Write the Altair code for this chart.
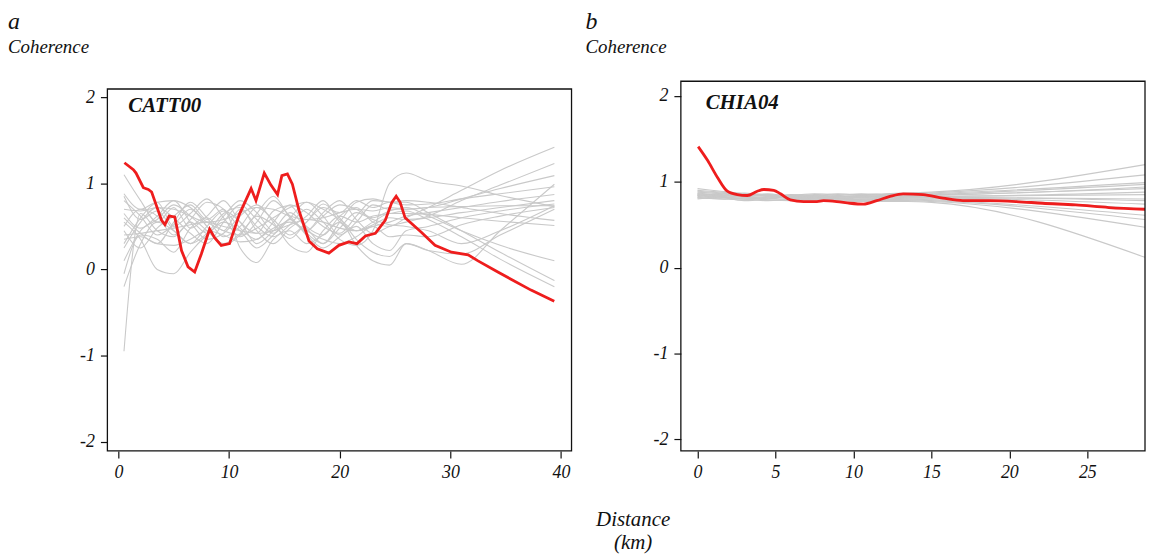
import altair as alt
import pandas as pd

FONT = "Liberation Serif"

# ---------------- text ----------------
PANEL_LETTERS = ["a", "b"]
STATIONS = ["CATT00", "CHIA04"]
Y_TITLE = "Coherence"
X_TITLE = ["Distance", "(km)"]

# ---------------- panel a (CATT00) ----------------
A_X_TICKS = [0, 10, 20, 30, 40]
A_RED_X = [0.54, 1.35, 1.59, 2.25, 2.70, 3.0, 3.90, 4.20, 4.58, 5.09, 5.70, 6.29, 6.89, 7.49, 8.24, 8.69,
           9.29, 10.04, 10.93, 11.99, 12.43, 13.18, 13.78, 14.38, 14.77, 15.27, 15.72, 16.33, 17.22,
           17.97, 19.02, 19.92, 20.82, 21.56, 22.32, 23.22, 24.11, 24.71, 25.10, 25.46, 25.91, 27.40,
           28.61, 30.10, 31.60, 32.50, 34.29, 37.29, 39.39]
A_RED_Y = [1.24, 1.16, 1.12, 0.95, 0.93, 0.90, 0.57, 0.52, 0.62, 0.61, 0.22, 0.03, -0.03, 0.18, 0.47, 0.37,
           0.28, 0.30, 0.64, 0.94, 0.80, 1.12, 0.98, 0.87, 1.09, 1.11, 0.99, 0.68, 0.33,
           0.24, 0.19, 0.28, 0.32, 0.30, 0.39, 0.42, 0.57, 0.78, 0.85, 0.78, 0.60, 0.43,
           0.28, 0.20, 0.17, 0.10, -0.03, -0.24, -0.37]

A_GRAY_X = [0.5, 2, 3.5, 5, 6.5, 8, 9.5, 11, 12.5, 14, 15.5, 17, 18.5, 20, 21.5, 23, 24.5, 26, 28, 31, 34.5, 39.4]
A_G01 = [1.10, 0.80, 0.55, 0.72, 0.48, 0.62, 0.80, 0.55, 0.42, 0.68, 0.74, 0.50, 0.40, 0.62, 0.72, 0.55, 0.50, 0.60, 0.72, 0.92, 1.15, 1.42]
A_G02 = [0.88, 0.70, 0.78, 0.50, 0.65, 0.82, 0.60, 0.38, 0.55, 0.80, 0.62, 0.45, 0.66, 0.80, 0.58, 0.42, 0.50, 0.55, 0.62, 0.80, 0.98, 1.23]
A_G03 = [0.70, 0.68, 0.72, 0.70, 0.62, 0.55, 0.58, 0.66, 0.72, 0.70, 0.62, 0.58, 0.60, 0.66, 0.70, 0.68, 0.72, 0.70, 0.72, 0.82, 0.94, 1.09]
A_G04 = [0.60, 0.42, 0.30, 0.55, 0.78, 0.60, 0.38, 0.50, 0.72, 0.58, 0.40, 0.55, 0.76, 0.60, 0.35, 0.20, 0.15, 0.30, 0.22, 0.06, 0.45, 0.99]
A_G05 = [0.50, 0.70, 0.62, 0.40, 0.58, 0.78, 0.70, 0.48, 0.35, 0.55, 0.75, 0.66, 0.50, 0.42, 0.62, 0.80, 0.78, 0.75, 0.76, 0.82, 0.88, 0.96]
A_G06 = [0.40, 0.42, 0.45, 0.48, 0.52, 0.55, 0.50, 0.45, 0.42, 0.45, 0.52, 0.58, 0.55, 0.48, 0.45, 0.50, 0.55, 0.62, 0.66, 0.72, 0.79, 0.87]
A_G07 = [0.25, 0.55, 0.72, 0.60, 0.42, 0.30, 0.55, 0.75, 0.58, 0.42, 0.60, 0.78, 0.62, 0.40, 0.55, 0.75, 0.70, 0.70, 0.72, 0.73, 0.74, 0.74]
A_G08 = [0.10, 0.45, 0.58, 0.75, 0.62, 0.45, 0.30, 0.42, 0.65, 0.85, 0.60, 0.42, 0.30, 0.48, 0.66, 0.58, 0.52, 0.50, 0.45, 0.30, 0.45, 0.74]
A_G09 = [-0.05, 0.40, 0.35, 0.20, 0.48, 0.60, 0.45, 0.70, 0.50, 0.38, 0.52, 0.70, 0.55, 0.35, 0.28, 0.45, 1.00, 1.12, 1.03, 0.97, 0.86, 0.73]
A_G10 = [-0.20, 0.30, 0.55, 0.45, 0.30, 0.50, 0.68, 0.55, 0.30, 0.45, 0.66, 0.48, 0.30, 0.55, 0.78, 0.82, 0.78, 0.80, 0.78, 0.72, 0.65, 0.57]
A_G11 = [0.30, 0.60, 0.78, 0.80, 0.72, 0.55, 0.45, 0.40, 0.48, 0.60, 0.72, 0.78, 0.70, 0.58, 0.45, 0.55, 0.65, 0.65, 0.64, 0.60, 0.56, 0.51]
A_G12 = [0.55, 0.35, 0.00, -0.05, 0.20, 0.40, 0.55, 0.45, 0.25, 0.40, 0.58, 0.45, 0.62, 0.75, 0.70, 0.60, 0.68, 0.72, 0.62, 0.45, 0.28, 0.10]
A_G13 = [0.80, 0.62, 0.40, 0.52, 0.70, 0.50, 0.28, 0.40, 0.62, 0.52, 0.36, 0.55, 0.72, 0.66, 0.80, 0.72, 0.78, 0.78, 0.66, 0.45, 0.20, -0.13]
A_G14 = [0.65, 0.48, 0.62, 0.80, 0.55, 0.35, 0.42, 0.62, 0.75, 0.55, 0.28, 0.20, 0.45, 0.62, 0.55, 0.62, 0.65, 0.68, 0.58, 0.38, 0.12, -0.20]
A_G15 = [-0.95, 0.65, 0.45, 0.38, 0.55, 0.42, 0.62, 0.80, 0.66, 0.45, 0.58, 0.40, 0.25, 0.38, 0.50, 0.30, 0.22, 0.45, 0.50, 0.60, 0.68, 0.76]
A_G16 = [0.45, 0.25, 0.48, 0.62, 0.75, 0.58, 0.70, 0.25, 0.08, 0.35, 0.45, 0.30, 0.40, 0.55, 0.28, 0.10, 0.05, 0.30, 0.22, 0.18, 0.40, 0.70]
A_G17 = [0.85, 0.58, 0.68, 0.45, 0.30, 0.42, 0.65, 0.72, 0.45, 0.30, 0.48, 0.62, 0.80, 0.55, 0.45, 0.52, 0.60, 0.58, 0.60, 0.66, 0.72, 0.80]
A_G18 = [0.35, 0.38, 0.30, 0.28, 0.35, 0.45, 0.40, 0.32, 0.35, 0.48, 0.55, 0.45, 0.35, 0.30, 0.38, 0.50, 0.38, 0.40, 0.38, 0.52, 0.62, 0.72]
A_GRAY = [A_G01, A_G02, A_G03, A_G04, A_G05, A_G06, A_G07, A_G08, A_G09,
          A_G10, A_G11, A_G12, A_G13, A_G14, A_G15, A_G16, A_G17, A_G18]

# ---------------- panel b (CHIA04) ----------------
B_X_TICKS = [0, 5, 10, 15, 20, 25]
B_RED_X = [0.04, 0.64, 1.28, 1.91, 2.55, 3.19, 3.83, 4.25, 4.89, 5.32, 5.95, 6.81, 7.66, 8.08, 8.93,
           9.78, 10.64, 11.49, 12.34, 13.19, 14.47, 15.74, 17.02, 18.72, 20.42, 22.12, 24.25, 26.38, 28.7]
B_RED_Y = [1.41, 1.25, 1.05, 0.89, 0.85, 0.84, 0.89, 0.91, 0.90, 0.86, 0.79, 0.77, 0.77, 0.78, 0.77,
           0.75, 0.74, 0.78, 0.83, 0.86, 0.85, 0.81, 0.78, 0.78, 0.77, 0.75, 0.73, 0.70, 0.68]

B_GRAY_X = [0, 1.5, 3, 4.5, 6, 7.5, 9, 10.5, 12, 13.5, 15, 28.7]
B_G01 = [0.90, 0.88, 0.86, 0.85, 0.84, 0.85, 0.86, 0.85, 0.86, 0.87, 0.88, 1.20]
B_G02 = [0.86, 0.85, 0.84, 0.86, 0.83, 0.84, 0.83, 0.84, 0.85, 0.86, 0.87, 1.08]
B_G03 = [0.84, 0.83, 0.85, 0.84, 0.82, 0.83, 0.85, 0.84, 0.83, 0.85, 0.86, 0.99]
B_G04 = [0.88, 0.86, 0.83, 0.82, 0.85, 0.84, 0.82, 0.83, 0.84, 0.84, 0.85, 0.97]
B_G05 = [0.82, 0.84, 0.86, 0.83, 0.82, 0.81, 0.83, 0.82, 0.84, 0.85, 0.85, 0.94]
B_G06 = [0.80, 0.82, 0.80, 0.81, 0.83, 0.82, 0.80, 0.82, 0.83, 0.83, 0.84, 0.92]
B_G07 = [0.92, 0.89, 0.86, 0.84, 0.82, 0.83, 0.84, 0.86, 0.85, 0.84, 0.83, 0.88]
B_G08 = [0.85, 0.82, 0.78, 0.80, 0.84, 0.86, 0.84, 0.81, 0.82, 0.83, 0.83, 0.85]
B_G09 = [0.83, 0.81, 0.83, 0.85, 0.81, 0.80, 0.82, 0.83, 0.82, 0.82, 0.82, 0.80]
B_G10 = [0.87, 0.84, 0.82, 0.80, 0.80, 0.82, 0.81, 0.80, 0.81, 0.82, 0.82, 0.78]
B_G11 = [0.81, 0.80, 0.79, 0.82, 0.84, 0.83, 0.81, 0.80, 0.80, 0.81, 0.81, 0.74]
B_G12 = [0.89, 0.87, 0.84, 0.83, 0.81, 0.80, 0.81, 0.82, 0.80, 0.80, 0.80, 0.68]
B_G13 = [0.84, 0.86, 0.87, 0.84, 0.80, 0.79, 0.80, 0.79, 0.79, 0.80, 0.79, 0.61]
B_G14 = [0.82, 0.80, 0.81, 0.79, 0.78, 0.80, 0.79, 0.78, 0.80, 0.79, 0.78, 0.56]
B_G15 = [0.86, 0.83, 0.80, 0.78, 0.80, 0.81, 0.80, 0.79, 0.78, 0.78, 0.77, 0.47]
B_G16 = [0.85, 0.84, 0.82, 0.81, 0.79, 0.78, 0.78, 0.77, 0.77, 0.77, 0.76, 0.12]
B_GRAY = [B_G01, B_G02, B_G03, B_G04, B_G05, B_G06, B_G07, B_G08,
          B_G09, B_G10, B_G11, B_G12, B_G13, B_G14, B_G15, B_G16]

Y_TICKS = [-2, -1, 0, 1, 2]

RED = "#ee1d1d"
GRAY = "#c9c9c9"
INK = "#111111"

NUM_EXPR = "datum.value < 0 ? '-' + abs(datum.value) : '' + datum.value"

W = 467
H = 372


def gray_frame(xs, series):
    rows = []
    for i, ys in enumerate(series):
        for x, y in zip(xs, ys):
            rows.append({"s": i, "x": x, "y": y})
    return pd.DataFrame(rows)


def text_layer(txt, x, y, size, weight="normal", align="left"):
    return alt.Chart(pd.DataFrame({"t": [txt]})).mark_text(
        font=FONT, fontSize=size, fontStyle="italic", fontWeight=weight,
        align=align, baseline="alphabetic", color=INK
    ).encode(text="t:N", x=alt.value(x), y=alt.value(y))


def frame_layer(top):
    return alt.Chart(pd.DataFrame({"f": [0]})).mark_rect(
        filled=False, stroke=INK, strokeWidth=1.3
    ).encode(x=alt.value(0), x2=alt.value(W), y=alt.value(top), y2=alt.value(H))


def panel(gx, gseries, rx, ry, xdom, xticks, ydom, station, st_xy,
          letter, left_off, frame_top, red_interp, extra=None):
    xenc = alt.X("x:Q", scale=alt.Scale(domain=xdom, nice=False, zero=False),
                 axis=alt.Axis(values=xticks, title=None, grid=False, domain=False,
                               tickSize=7, tickColor=INK, tickWidth=1.2,
                               labelFont=FONT, labelFontStyle="italic", labelFontSize=18,
                               labelColor=INK, labelPadding=6, labelExpr=NUM_EXPR))
    yenc = alt.Y("y:Q", scale=alt.Scale(domain=ydom, nice=False, zero=False),
                 axis=alt.Axis(values=Y_TICKS, title=None, grid=False, domain=False,
                               tickSize=7, tickColor=INK, tickWidth=1.2,
                               labelFont=FONT, labelFontStyle="italic", labelFontSize=18,
                               labelColor=INK, labelPadding=6, labelExpr=NUM_EXPR))
    gray = alt.Chart(gray_frame(gx, gseries)).mark_line(
        color=GRAY, strokeWidth=1.1, interpolate="monotone", clip=True
    ).encode(x=xenc, y=yenc, detail="s:N")
    red = alt.Chart(pd.DataFrame({"x": rx, "y": ry})).mark_line(
        color=RED, strokeWidth=2.8, clip=True, interpolate=red_interp
    ).encode(x=xenc, y=yenc)
    layers = [gray, red, frame_layer(frame_top),
              text_layer(station, st_xy[0], st_xy[1], 21, weight="bold"),
              text_layer(letter, left_off, -52.5, 24),
              text_layer(Y_TITLE, left_off, -28, 19)]
    if extra:
        layers += extra
    return alt.layer(*layers).properties(width=W, height=H)


pa = panel(A_GRAY_X, A_GRAY, A_RED_X, A_RED_Y, [-1.0, 40.95], A_X_TICKS, [-2.109, 2.187],
           STATIONS[0], (21, 31.2), PANEL_LETTERS[0], -100, 7.8, "linear")

pb = panel(B_GRAY_X, B_GRAY, B_RED_X, B_RED_Y, [-1.07, 28.7], B_X_TICKS, [-2.135, 2.171],
           STATIONS[1], (25, 27.8), PANEL_LETTERS[1], -96, 0, "monotone",
           extra=[text_layer(X_TITLE[0], -48, 447.5, 21, align="center"),
                  text_layer(X_TITLE[1], -48, 470.5, 21, align="center")])

chart = alt.hconcat(pa, pb, spacing=13).resolve_scale(
    x="independent", y="independent"
).configure_view(strokeWidth=0).properties(
    padding={"left": 0, "top": 0, "right": 0, "bottom": 0},
    background="white"
)

chart.save("out.html", embed_options={"renderer": "svg", "actions": False})
